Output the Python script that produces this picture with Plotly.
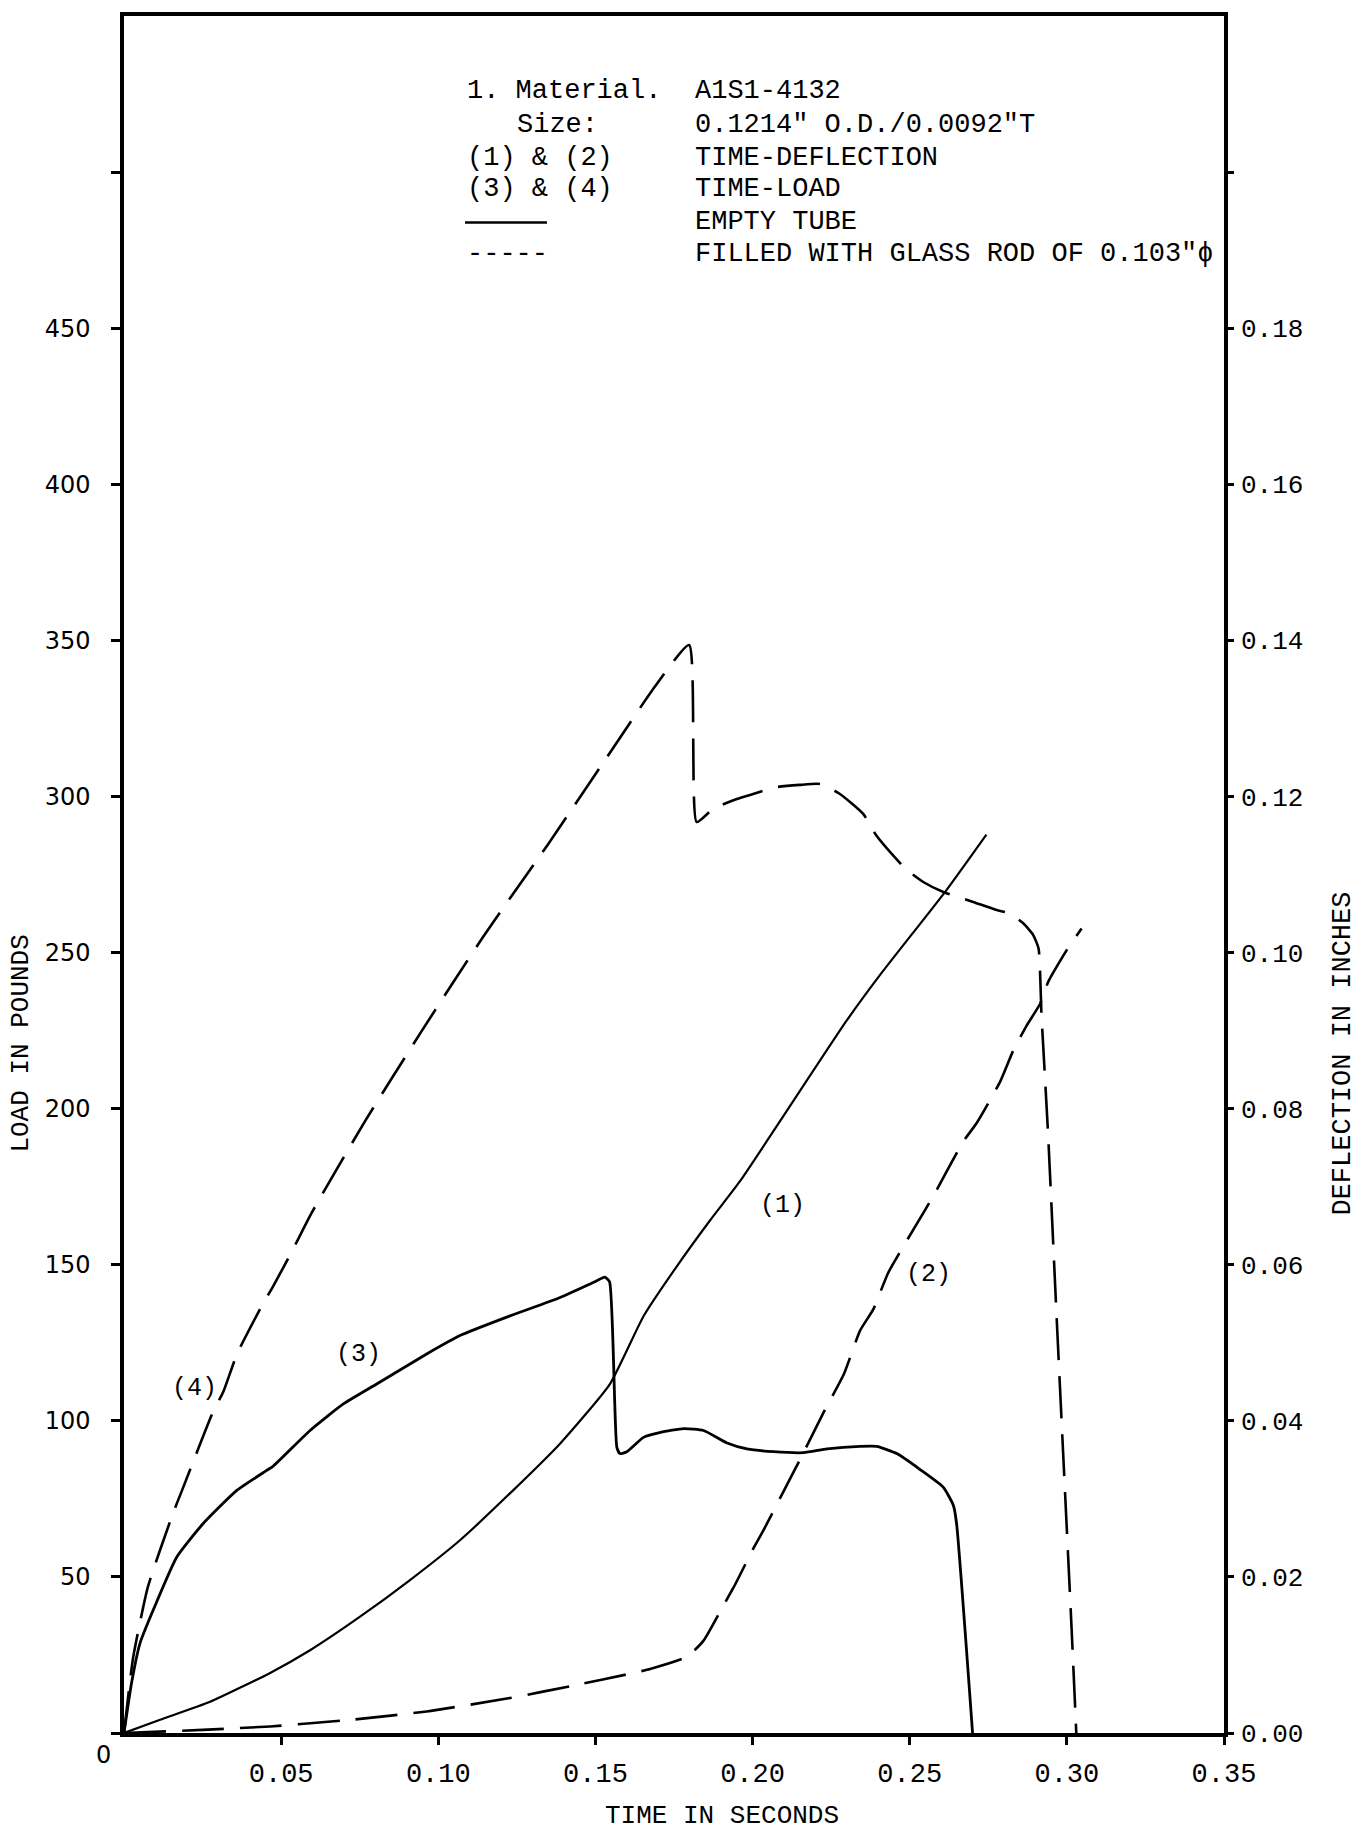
import plotly.graph_objects as go

# ---------------- data ----------------
# Curve (3): time-load, empty tube (left axis, lb)
t3 = [0, 0.0024, 0.0051, 0.0093, 0.0168, 0.0252, 0.0359, 0.0454, 0.0475, 0.0592,
      0.0698, 0.0804, 0.0963, 0.1069, 0.1228, 0.1388, 0.1493, 0.1530, 0.1545, 0.1568,
      0.1578, 0.1600, 0.1653, 0.1707, 0.1781, 0.1844, 0.1919, 0.1982, 0.2067, 0.2162,
      0.2237, 0.2342, 0.2395, 0.2459, 0.2533, 0.2607, 0.2639, 0.2649, 0.2700]
load3 = [0, 16, 28.8, 39.4, 56.4, 67.1, 77.7, 84.1, 85.5, 96.9,
         105.4, 111.8, 121.4, 127.3, 133.6, 139.5, 144.3, 146.0, 144.5, 91.6,
         89.5, 90.1, 94.7, 96.3, 97.5, 96.9, 92.9, 91.0, 90.1, 89.8,
         91.0, 91.8, 91.8, 89.5, 84.4, 78.7, 72.9, 67.2, 0]

# Curve (4): time-load, filled with glass rod (left axis, lb)
t4 = [0, 0.0029, 0.0076, 0.0156, 0.0185, 0.0283, 0.0316, 0.0360, 0.0442, 0.0474,
      0.0535, 0.0597, 0.0767, 0.0950, 0.1145, 0.1350, 0.1536, 0.1690, 0.1798, 0.1822,
      0.1874, 0.1950, 0.2002, 0.2077, 0.2150, 0.2215, 0.2278, 0.2352, 0.2394, 0.2486,
      0.2543, 0.2607, 0.2702, 0.2777, 0.2819, 0.2862, 0.2893, 0.2910, 0.2919, 0.2940,
      0.2967, 0.2988, 0.3015, 0.3030]
load4 = [0, 24.1, 46.8, 70.4, 77.8, 102.8, 109.3, 121.5, 137.5, 143.0,
         154.4, 166.6, 196.0, 225.3, 255.4, 284.8, 312.5, 335.3, 348.5, 291.8,
         296.0, 299.2, 300.8, 303.0, 303.7, 304.0, 300.8, 294.4, 287.5, 276.9,
         272.6, 269.4, 266.2, 263.6, 262.5, 259.3, 255.6, 251.3, 230.6, 192.4,
         134.1, 90.0, 33.6, 0]

# Curve (1): time-deflection, empty tube (right axis, in)
t1 = [0, 0.0115, 0.0274, 0.0465, 0.0592, 0.0751, 0.0910, 0.1069, 0.1228, 0.1388,
      0.1546, 0.1653, 0.1759, 0.1865, 0.1960, 0.2298, 0.2405, 0.2617, 0.2744]
defl1 = [0, 0.0017, 0.0040, 0.0077, 0.0106, 0.0149, 0.0196, 0.0247, 0.0307, 0.0371,
         0.0447, 0.0534, 0.0598, 0.0657, 0.0707, 0.0912, 0.0971, 0.1080, 0.1151]

# Curve (2): time-deflection, filled with glass rod (right axis, in)
t2 = [0, 0.025, 0.0465, 0.0719, 0.0963, 0.1228, 0.1440, 0.1610, 0.1674, 0.1791,
      0.1844, 0.1908, 0.1940, 0.2003, 0.2035, 0.2099, 0.2152, 0.2226, 0.2291, 0.2342,
      0.2384, 0.2432, 0.2522, 0.2575, 0.2670, 0.2713, 0.2787, 0.2829, 0.2872, 0.2915,
      0.2941, 0.2999, 0.3047]
defl2 = [0, 0.0004, 0.00084, 0.00168, 0.00276, 0.00448, 0.00616, 0.0076, 0.0082, 0.00976,
         0.01184, 0.0164, 0.01868, 0.02368, 0.0260, 0.0310, 0.03512, 0.04108, 0.04604, 0.05156,
         0.05428, 0.0590, 0.0652, 0.0688, 0.07576, 0.07816, 0.0834, 0.0874, 0.09064, 0.09344,
         0.09628, 0.10028, 0.10308]

x_ticks = [0.05, 0.10, 0.15, 0.20, 0.25, 0.30, 0.35]
x_tick_labels = ["0.05", "0.10", "0.15", "0.20", "0.25", "0.30", "0.35"]
load_ticks = [0, 50, 100, 150, 200, 250, 300, 350, 400, 450, 500]
load_tick_labels = ["", "50", "100", "150", "200", "250", "300", "350", "400", "450", ""]
defl_ticks = [0, 0.02, 0.04, 0.06, 0.08, 0.10, 0.12, 0.14, 0.16, 0.18, 0.20]
defl_tick_labels = ["0.00", "0.02", "0.04", "0.06", "0.08", "0.10", "0.12", "0.14",
                    "0.16", "0.18", ""]

curve_labels = ["(1)", "(2)", "(3)", "(4)"]
legend_left = ["1. Material.", "Size:", "(1) & (2)", "(3) & (4)", "", "-----"]
legend_right = ["A1S1-4132", "0.1214\" O.D./0.0092\"T", "TIME-DEFLECTION", "TIME-LOAD",
                "EMPTY TUBE", "FILLED WITH GLASS ROD OF 0.103\"\u03d5"]

# ---------------- figure ----------------
W, H = 1369, 1832
ML, MR, MT, MB = 124, 145, 12, 99
PW, PH = W - ML - MR, H - MT - MB
MONO = "Liberation Mono, Courier New, monospace"
SANS = "DejaVu Sans, Arial, sans-serif"


def xp(px):
    return (px - ML) / PW


def yp(py):
    return (H - MB - py) / PH


dash = "42px,16px"
SM = 0.5
fig = go.Figure()
fig.add_trace(go.Scatter(x=t3, y=load3, mode="lines", yaxis="y",
                         line=dict(color="black", width=2.8, shape="spline", smoothing=SM),
                         showlegend=False))
fig.add_trace(go.Scatter(x=t4, y=load4, mode="lines", yaxis="y",
                         line=dict(color="black", width=2.6, dash=dash, shape="spline",
                                   smoothing=SM), showlegend=False))
fig.add_trace(go.Scatter(x=t1, y=defl1, mode="lines", yaxis="y2",
                         line=dict(color="black", width=2.2, shape="spline", smoothing=SM),
                         showlegend=False))
fig.add_trace(go.Scatter(x=t2, y=defl2, mode="lines", yaxis="y2",
                         line=dict(color="black", width=2.6, dash=dash, shape="spline",
                                   smoothing=SM), showlegend=False))

annotations = []
# curve labels (data coordinates of label centres)
label_pos = [(0.2094, 168.9), (0.2560, 147.0), (0.0746, 121.3), (0.0223, 110.4)]
for txt, (lx, ly) in zip(curve_labels, label_pos):
    annotations.append(dict(x=lx, y=ly, xref="x", yref="y", text=txt, showarrow=False,
                            font=dict(family=MONO, size=25, color="black")))

# legend block
rows_y = [87.6, 121.5, 154.0, 185.7, 218.4, 251.0]
left_x = [465, 515, 465, 465, 465, 465]
for txt, lx, ry in zip(legend_left, left_x, rows_y):
    if txt:
        annotations.append(dict(x=xp(lx), y=yp(ry), xref="paper", yref="paper", text=txt,
                                showarrow=False, xanchor="left", yanchor="middle",
                                font=dict(family=MONO, size=27, color="black")))
for txt, ry in zip(legend_right, rows_y):
    annotations.append(dict(x=xp(693), y=yp(ry), xref="paper", yref="paper", text=txt,
                            showarrow=False, xanchor="left", yanchor="middle",
                            font=dict(family=MONO, size=27, color="black")))

# origin "0"
annotations.append(dict(x=xp(103), y=yp(1755), xref="paper", yref="paper", text="0",
                        showarrow=False, xanchor="center", yanchor="middle",
                        font=dict(family=SANS, size=24, color="black")))
# axis titles
annotations.append(dict(x=xp(722), y=yp(1816), xref="paper", yref="paper",
                        text="TIME IN SECONDS", showarrow=False, xanchor="center",
                        yanchor="middle", font=dict(family=MONO, size=26, color="black")))
annotations.append(dict(x=xp(21), y=yp(1042), xref="paper", yref="paper",
                        text="LOAD IN POUNDS", showarrow=False, textangle=-90,
                        xanchor="center", yanchor="middle",
                        font=dict(family=MONO, size=26, color="black")))
annotations.append(dict(x=xp(1343), y=yp(1052), xref="paper", yref="paper",
                        text="DEFLECTION IN INCHES", showarrow=False, textangle=-90,
                        xanchor="center", yanchor="middle",
                        font=dict(family=MONO, size=27, color="black")))

shapes = [dict(type="line", xref="paper", yref="paper", x0=xp(465), x1=xp(547),
               y0=yp(219), y1=yp(219), line=dict(color="black", width=2.5))]

fig.update_layout(
    width=W, height=H, autosize=False,
    margin=dict(l=ML, r=MR, t=MT, b=MB, pad=0),
    paper_bgcolor="white", plot_bgcolor="white",
    showlegend=False,
    xaxis=dict(range=[0, 0.35], showgrid=False, zeroline=False,
               showline=True, linecolor="black", linewidth=3.5, mirror=True,
               ticks="outside", ticklen=8, tickwidth=2.5, tickcolor="black",
               tickvals=x_ticks, ticktext=x_tick_labels, ticklabelstandoff=5,
               tickfont=dict(family=MONO, size=27, color="black")),
    yaxis=dict(range=[0, 550], showgrid=False, zeroline=False,
               showline=True, linecolor="black", linewidth=3.5,
               ticks="outside", ticklen=9, tickwidth=2.5, tickcolor="black",
               tickvals=load_ticks, ticktext=load_tick_labels, ticklabelstandoff=16,
               tickfont=dict(family=SANS, size=24, color="black")),
    yaxis2=dict(range=[0, 0.22], overlaying="y", side="right", showgrid=False,
                zeroline=False, showline=True, linecolor="black", linewidth=3.5,
                ticks="outside", ticklen=6, tickwidth=2.5, tickcolor="black",
                tickvals=defl_ticks, ticktext=defl_tick_labels, ticklabelstandoff=2,
                tickfont=dict(family=MONO, size=26, color="black")),
    annotations=annotations,
    shapes=shapes,
)

fig.write_html("out.html")
